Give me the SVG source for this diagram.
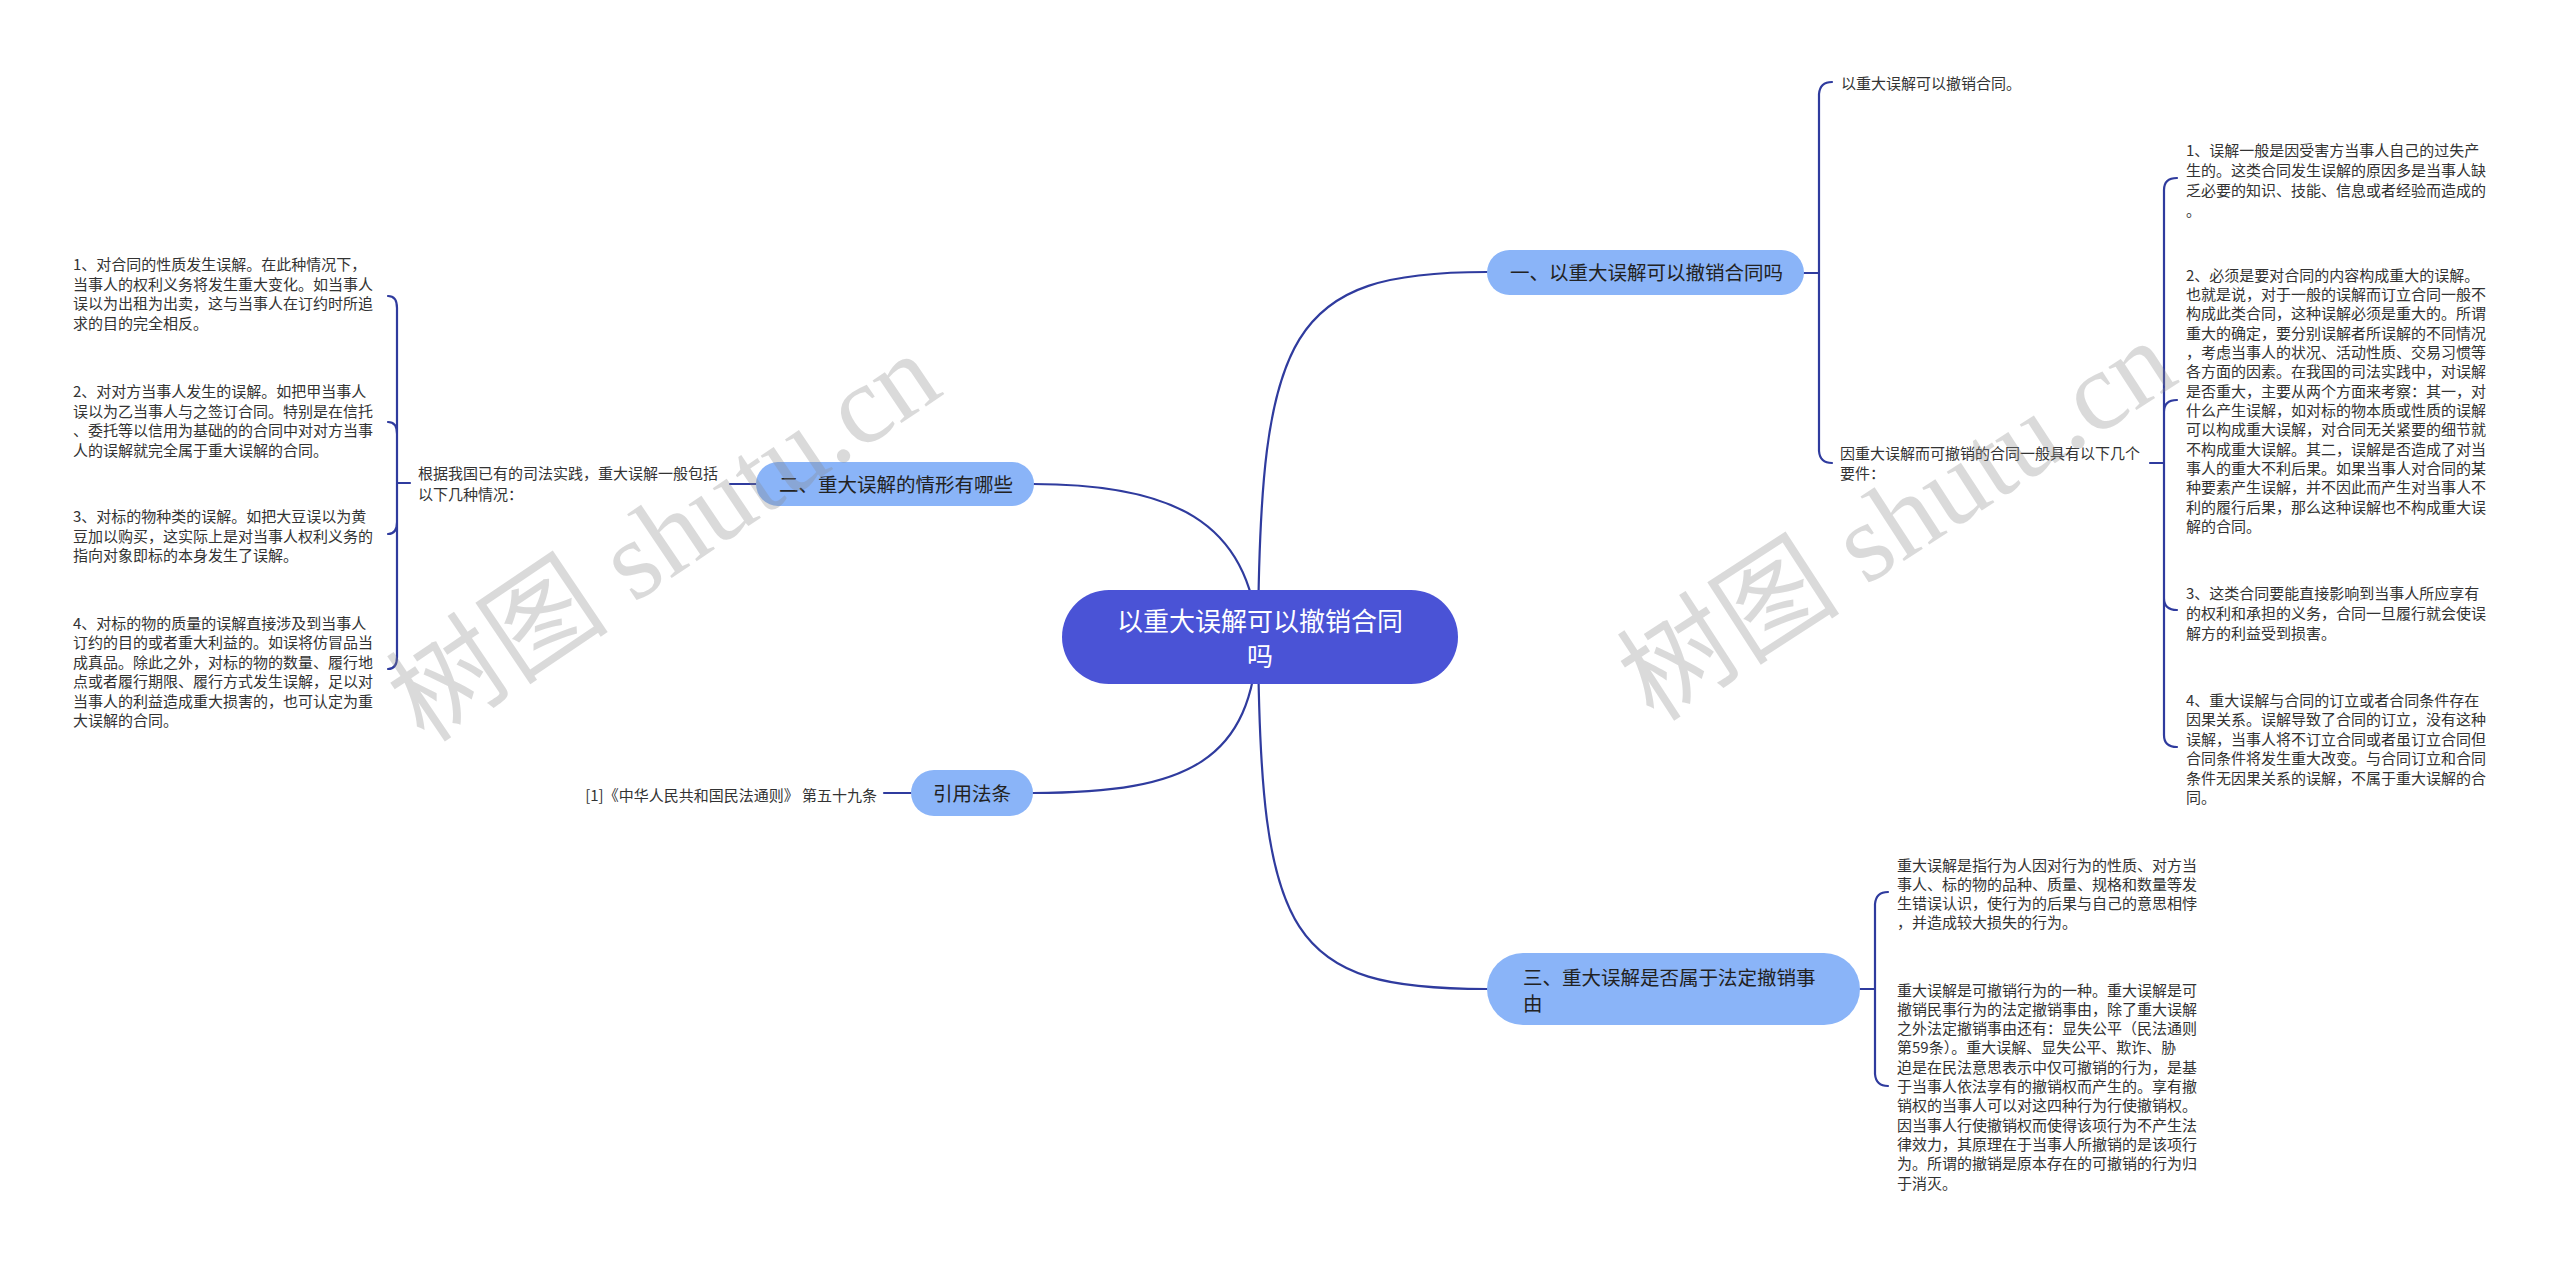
<svg xmlns="http://www.w3.org/2000/svg" width="2560" height="1265" viewBox="0 0 2560 1265">
<style>
.c{fill:none;stroke:#2f3b9e;stroke-width:2.2;stroke-linecap:round}
.t{font-family:"Noto Sans CJK SC","Noto Sans",sans-serif;font-size:15px;fill:#333}
.b{fill:#8ab4f8}
.bt{font-family:"Noto Sans CJK SC","Noto Sans",sans-serif;font-size:19.5px;fill:#222}
.ct{font-family:"Noto Sans CJK SC","Noto Sans",sans-serif;font-size:26px;fill:#fff}
.wm{font-family:"Liberation Serif","Noto Sans CJK SC",serif;font-size:112px;fill:#888;opacity:0.3}
</style>
<rect width="2560" height="1265" fill="#fff"/>
<g id="connectors">
<path class="c" d="M1258 637 C1260 330 1290 272 1487 272"/>
<path class="c" d="M1258 637 C1250 520 1170 484 1033 484"/>
<path class="c" d="M1258 637 C1260 940 1290 989 1487 989"/>
<path class="c" d="M1258 637 C1252 760 1190 793 1033 793"/>
<path class="c" d="M1804 273 L1819 273 M1819 273 L1819 94 Q1820 82 1832 82 M1819 273 L1819 451 Q1820 463 1832 463"/>
<path class="c" d="M2150 463 L2164 463 M2164 463 L2164 190 Q2164 178 2177 178 M2164 463 L2164 412 Q2164 400 2177 400 M2164 463 L2164 598 Q2164 610 2177 610 M2164 463 L2164 735 Q2164 747 2177 747"/>
<path class="c" d="M1860 989 L1875 989 M1875 989 L1875 904 Q1876 892 1888 892 M1875 989 L1875 1074 Q1876 1086 1888 1086"/>
<path class="c" d="M756 484 L730 484"/>
<path class="c" d="M410 483 L397 483 M397 483 L397 308 Q397 296 388 296 M397 483 L397 434 Q397 422 388 422 M397 483 L397 522 Q397 534 388 534 M397 483 L397 657 Q397 669 388 669"/>
<path class="c" d="M911 793 L884 793"/>
</g>
<g id="center">
<rect x="1062" y="590" width="396" height="94" rx="47" fill="#4a53d6"/>
<text class="ct" x="1260" y="631" text-anchor="middle">以重大误解可以撤销合同</text>
<text class="ct" x="1260" y="666" text-anchor="middle">吗</text>
</g>
<g id="branch1">
<rect class="b" x="1487" y="250" width="317" height="45" rx="22.5"/>
<text class="bt" x="1510" y="279.5">一、以重大误解可以撤销合同吗</text>
</g>
<g id="b1c1"><text class="t" x="1841" y="88.5">以重大误解可以撤销合同。</text></g>
<g id="b1c2"><text class="t" x="1840" y="458.8">因重大误解而可撤销的合同一般具有以下几个<tspan x="1840" dy="20">要件：</tspan></text></g>
<g id="b1c2i1"><text class="t" x="2186" y="156.2">1、误解一般是因受害方当事人自己的过失产<tspan x="2186" dy="20">生的。这类合同发生误解的原因多是当事人缺</tspan><tspan x="2186" dy="20">乏必要的知识、技能、信息或者经验而造成的</tspan><tspan x="2186" dy="20">。</tspan></text></g>
<g id="b1c2i2"><text class="t" x="2186" y="280.5">2、必须是要对合同的内容构成重大的误解。<tspan x="2186" dy="19.36">也就是说，对于一般的误解而订立合同一般不</tspan><tspan x="2186" dy="19.36">构成此类合同，这种误解必须是重大的。所谓</tspan><tspan x="2186" dy="19.36">重大的确定，要分别误解者所误解的不同情况</tspan><tspan x="2186" dy="19.36">，考虑当事人的状况、活动性质、交易习惯等</tspan><tspan x="2186" dy="19.36">各方面的因素。在我国的司法实践中，对误解</tspan><tspan x="2186" dy="19.36">是否重大，主要从两个方面来考察：其一，对</tspan><tspan x="2186" dy="19.36">什么产生误解，如对标的物本质或性质的误解</tspan><tspan x="2186" dy="19.36">可以构成重大误解，对合同无关紧要的细节就</tspan><tspan x="2186" dy="19.36">不构成重大误解。其二，误解是否造成了对当</tspan><tspan x="2186" dy="19.36">事人的重大不利后果。如果当事人对合同的某</tspan><tspan x="2186" dy="19.36">种要素产生误解，并不因此而产生对当事人不</tspan><tspan x="2186" dy="19.36">利的履行后果，那么这种误解也不构成重大误</tspan><tspan x="2186" dy="19.36">解的合同。</tspan></text></g>
<g id="b1c2i3"><text class="t" x="2186" y="598.8">3、这类合同要能直接影响到当事人所应享有<tspan x="2186" dy="20">的权利和承担的义务，合同一旦履行就会使误</tspan><tspan x="2186" dy="20">解方的利益受到损害。</tspan></text></g>
<g id="b1c2i4"><text class="t" x="2186" y="705.5">4、重大误解与合同的订立或者合同条件存在<tspan x="2186" dy="19.5">因果关系。误解导致了合同的订立，没有这种</tspan><tspan x="2186" dy="19.5">误解，当事人将不订立合同或者虽订立合同但</tspan><tspan x="2186" dy="19.5">合同条件将发生重大改变。与合同订立和合同</tspan><tspan x="2186" dy="19.5">条件无因果关系的误解，不属于重大误解的合</tspan><tspan x="2186" dy="19.5">同。</tspan></text></g>
<g id="branch2">
<rect class="b" x="756" y="462" width="278" height="44" rx="22"/>
<text class="bt" x="779" y="491.5">二、重大误解的情形有哪些</text>
</g>
<g id="b2c1"><text class="t" x="418" y="479">根据我国已有的司法实践，重大误解一般包括<tspan x="418" dy="20.5">以下几种情况：</tspan></text></g>
<g id="b2i1"><text class="t" x="73" y="270">1、对合同的性质发生误解。在此种情况下，<tspan x="73" dy="19.5">当事人的权利义务将发生重大变化。如当事人</tspan><tspan x="73" dy="19.5">误以为出租为出卖，这与当事人在订约时所追</tspan><tspan x="73" dy="19.5">求的目的完全相反。</tspan></text></g>
<g id="b2i2"><text class="t" x="73" y="397.2">2、对对方当事人发生的误解。如把甲当事人<tspan x="73" dy="19.5">误以为乙当事人与之签订合同。特别是在信托</tspan><tspan x="73" dy="19.5">、委托等以信用为基础的的合同中对对方当事</tspan><tspan x="73" dy="19.5">人的误解就完全属于重大误解的合同。</tspan></text></g>
<g id="b2i3"><text class="t" x="73" y="522.2">3、对标的物种类的误解。如把大豆误以为黄<tspan x="73" dy="19.5">豆加以购买，这实际上是对当事人权利义务的</tspan><tspan x="73" dy="19.5">指向对象即标的本身发生了误解。</tspan></text></g>
<g id="b2i4"><text class="t" x="73" y="628.5">4、对标的物的质量的误解直接涉及到当事人<tspan x="73" dy="19.5">订约的目的或者重大利益的。如误将仿冒品当</tspan><tspan x="73" dy="19.5">成真品。除此之外，对标的物的数量、履行地</tspan><tspan x="73" dy="19.5">点或者履行期限、履行方式发生误解，足以对</tspan><tspan x="73" dy="19.5">当事人的利益造成重大损害的，也可认定为重</tspan><tspan x="73" dy="19.5">大误解的合同。</tspan></text></g>
<g id="branch4">
<rect class="b" x="911" y="770" width="122" height="46" rx="23"/>
<text class="bt" x="972" y="800.5" text-anchor="middle">引用法条</text>
</g>
<g id="b4c1"><text class="t" x="877" y="801" text-anchor="end">[1]《中华人民共和国民法通则》 第五十九条</text></g>
<g id="branch3">
<rect class="b" x="1487" y="953" width="373" height="72" rx="36"/>
<text class="bt" x="1523" y="985">三、重大误解是否属于法定撤销事<tspan x="1523" dy="26">由</tspan></text>
</g>
<g id="b3c1"><text class="t" x="1897" y="870.5">重大误解是指行为人因对行为的性质、对方当<tspan x="1897" dy="19.2">事人、标的物的品种、质量、规格和数量等发</tspan><tspan x="1897" dy="19.2">生错误认识，使行为的后果与自己的意思相悖</tspan><tspan x="1897" dy="19.2">，并造成较大损失的行为。</tspan></text></g>
<g id="b3c2"><text class="t" x="1897" y="995.5">重大误解是可撤销行为的一种。重大误解是可<tspan x="1897" dy="19.33">撤销民事行为的法定撤销事由，除了重大误解</tspan><tspan x="1897" dy="19.33">之外法定撤销事由还有：显失公平（民法通则</tspan><tspan x="1897" dy="19.33">第59条）。重大误解、显失公平、欺诈、胁</tspan><tspan x="1897" dy="19.33">迫是在民法意思表示中仅可撤销的行为，是基</tspan><tspan x="1897" dy="19.33">于当事人依法享有的撤销权而产生的。享有撤</tspan><tspan x="1897" dy="19.33">销权的当事人可以对这四种行为行使撤销权。</tspan><tspan x="1897" dy="19.33">因当事人行使撤销权而使得该项行为不产生法</tspan><tspan x="1897" dy="19.33">律效力，其原理在于当事人所撤销的是该项行</tspan><tspan x="1897" dy="19.33">为。所谓的撤销是原本存在的可撤销的行为归</tspan><tspan x="1897" dy="19.33">于消灭。</tspan></text></g>
<g id="watermark">
<text class="wm" x="665" y="575" text-anchor="middle" transform="rotate(-34 665 539)">树图 shutu.cn</text>
<text class="wm" x="1898" y="558" text-anchor="middle" transform="rotate(-33 1898 522)">树图 shutu.cn</text>
</g>
</svg>
